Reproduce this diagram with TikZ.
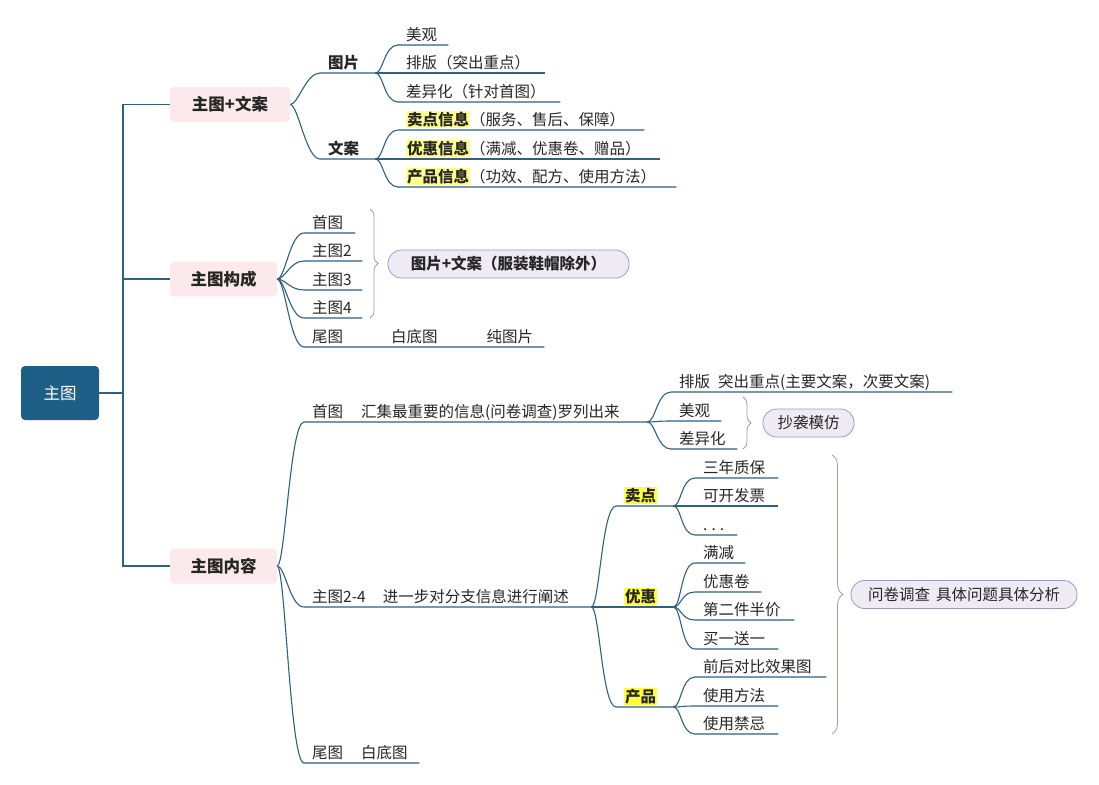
\documentclass[tikz,border=0pt]{standalone}
\usepackage{fontspec}
\setmainfont{Noto Sans CJK SC}
\usepackage{xcolor}
\usepackage{tikz}
\usetikzlibrary{decorations.pathreplacing}

\definecolor{rootblue}{HTML}{1E5F87}
\definecolor{lnblue}{HTML}{2F607F}
\definecolor{pinkbg}{HTML}{FCE9EB}
\definecolor{sumbg}{HTML}{EFEBF5}
\definecolor{sumline}{HTML}{A496BF}
\definecolor{hlA}{HTML}{FFFF8C}
\definecolor{hlB}{HTML}{FFFF40}
\definecolor{txt}{HTML}{262626}
\setlength{\fboxsep}{1pt}

\begin{document}
\begin{tikzpicture}[x=1pt, y=-1pt, font=\fontsize{15.5}{18}\selectfont, text=txt,
    ln/.style={draw=lnblue, line width=1.1pt},
    rootbox/.style={fill=rootblue, rounded corners=4pt, text=white, minimum width=78pt, minimum height=54pt, font=\fontsize{16.5}{18}\selectfont},
    topic/.style={fill=pinkbg, rounded corners=4pt, minimum width=#1, minimum height=35pt, font=\bfseries\fontsize{16.5}{18}\selectfont},
    leaf/.style={anchor=south west, inner xsep=0pt, inner ysep=1.5pt, text height=11pt, text depth=3pt, text width=#1, align=left},
    summ/.style={draw=sumline, fill=sumbg, line width=0.8pt, rounded corners=13.5pt, minimum width=#1, minimum height=28pt},
    brc/.style={draw=sumline, line width=0.8pt, decorate, decoration={brace, amplitude=#1}}]
              \useasboundingbox (0,0) rectangle (1099,784);

              \node[rootbox] (root) at (60,393) {主图};
              \node[topic=120pt] (A) at (230,104.5) {主图+文案};
              \node[topic=107pt] (B) at (223.5,279) {主图构成};
              \node[topic=107pt] (C) at (223.5,566) {主图内容};

              \coordinate (trunk) at (123,393);
              \draw[ln] (root) -- (trunk) (trunk) |- (A) (trunk) |- (B) (trunk) |- (C);

              \node[leaf=47pt] (A1) at (328,73) {\bfseries 图片};
              \node[leaf=47pt] (A2) at (328,159) {\bfseries 文案};
              \node[leaf=42pt] (A11) at (406,45) {美观};
              \node[leaf=139pt] (A12) at (406,73) {排版（突出重点）};
              \node[leaf=154pt] (A13) at (406,102) {差异化（针对首图）};
              \node[leaf=238pt] (A21) at (406,130) {\colorbox{hlA}{\bfseries 卖点信息}（服务、售后、保障）};
              \node[leaf=254pt] (A22) at (406,159) {\colorbox{hlA}{\bfseries 优惠信息}（满减、优惠卷、赠品）};
              \node[leaf=270pt] (A23) at (406,187) {\colorbox{hlA}{\bfseries 产品信息}（功效、配方、使用方法）};

              \node[leaf=43pt] (B1) at (312,233) {首图};
              \node[leaf=50pt] (B2) at (312,261) {主图2};
              \node[leaf=50pt] (B3) at (312,290) {主图3};
              \node[leaf=50pt] (B4) at (312,318) {主图4};
              \node[leaf=232pt] (B5) at (312,347) {尾图\kern48pt 白底图\kern49pt 纯图片};
              \coordinate (b1t) at (370,209);
              \coordinate (b1b) at (370,318);
              \draw[brc=8pt] (b1t) -- (b1b);
              \node[summ=241pt, font=\bfseries\fontsize{15.5}{18}\selectfont] (S1) at (508.5,264) {图片+文案（服装鞋帽除外）};

              \node[leaf=335pt] (C1) at (312,422) {首图\kern18pt 汇集最重要的信息(问卷调查)罗列出来};
              \node[leaf=279pt] (C2) at (312,607) {主图2-4\kern17pt 进一步对分支信息进行阐述};
              \node[leaf=107pt] (C3) at (312,763) {尾图\kern18pt 白底图};

              \node[leaf=273pt] (C11) at (679,392) {排版\kern8pt 突出重点(主要文案，次要文案)};
              \node[leaf=42pt] (C12) at (679,421) {美观};
              \node[leaf=58pt] (C13) at (679,449) {差异化};
              \coordinate (b2t) at (743,397);
              \coordinate (b2b) at (743,449);
              \draw[brc=8pt] (b2t) -- (b2b);
              \node[summ=91pt] (S2) at (808.5,423) {抄袭模仿};

              \node[leaf=49pt] (C21) at (624,506) {\colorbox{hlB}{\bfseries 卖点}};
              \node[leaf=49pt] (C22) at (624,607) {\colorbox{hlB}{\bfseries 优惠}};
              \node[leaf=49pt] (C23) at (624,707) {\colorbox{hlB}{\bfseries 产品}};
              \node[leaf=75pt] (C211) at (703,478) {三年质保};
              \node[leaf=75pt] (C212) at (703,506) {可开发票};
              \node[leaf=34pt] (C213) at (703,535) {.\kern4pt.\kern4pt.};
              \node[leaf=42pt] (C221) at (703,563) {满减};
              \node[leaf=58pt] (C222) at (703,592) {优惠卷};
              \node[leaf=91pt] (C223) at (703,620) {第二件半价};
              \node[leaf=75pt] (C224) at (703,649) {买一送一};
              \node[leaf=123pt] (C231) at (703,677) {前后对比效果图};
              \node[leaf=75pt] (C232) at (703,706) {使用方法};
              \node[leaf=75pt] (C233) at (703,734) {使用禁忌};
              \coordinate (b3t) at (832,455);
              \coordinate (b3b) at (832,734);
              \draw[brc=11pt] (b3t) -- (b3b);
              \node[summ=226pt] (S3) at (964,594.5) {问卷调查\kern6pt 具体问题具体分析};

              \foreach \p/\c in {A.east/A1, A.east/A2, A1.south east/A11, A1.south east/A12, A1.south east/A13,
                                 A2.south east/A21, A2.south east/A22, A2.south east/A23,
                                 B.east/B1, B.east/B2, B.east/B3, B.east/B4, B.east/B5,
                                 C.east/C1, C.east/C2, C.east/C3,
                                 C1.south east/C11, C1.south east/C12, C1.south east/C13,
                                 C2.south east/C21, C2.south east/C22, C2.south east/C23,
                                 C21.south east/C211, C21.south east/C212, C21.south east/C213,
                                 C22.south east/C221, C22.south east/C222, C22.south east/C223, C22.south east/C224,
                                 C23.south east/C231, C23.south east/C232, C23.south east/C233}
                \draw[ln] (\p) .. controls +(8,0) and +(-14,0) .. ([xshift=-8pt]\c.south west) -- (\c.south east);
            \end{tikzpicture}
\end{document}
